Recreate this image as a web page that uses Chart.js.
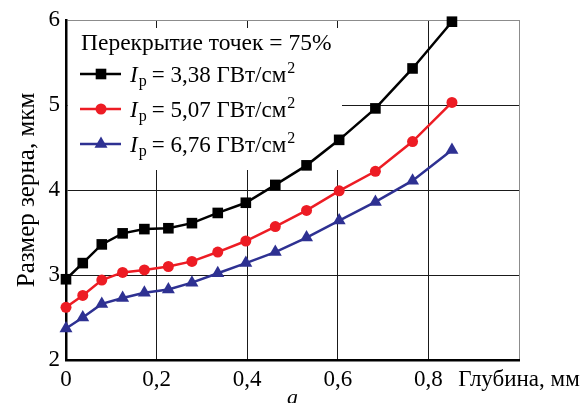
<!DOCTYPE html>
<html>
<head>
<meta charset="utf-8">
<script src="https://cdn.jsdelivr.net/npm/chart.js@4/dist/chart.umd.min.js"></script>
<style>
  html, body { margin: 0; padding: 0; background: #fff; }
  canvas { display: block; }
</style>
</head>
<body>
<canvas id="myChart" width="583" height="403"></canvas>
<script>
// Глубина, мм
const depth = [0, 0.037, 0.079, 0.125, 0.173, 0.226, 0.278, 0.335, 0.397, 0.462, 0.531, 0.603, 0.683, 0.765, 0.852];
// Размер зерна, мкм
const grain338 = [2.95, 3.14, 3.36, 3.49, 3.54, 3.55, 3.61, 3.73, 3.85, 4.06, 4.29, 4.59, 4.96, 5.43, 5.98];
const grain507 = [2.62, 2.76, 2.94, 3.03, 3.06, 3.10, 3.16, 3.27, 3.40, 3.57, 3.76, 3.99, 4.22, 4.57, 5.03];
const grain676 = [2.37, 2.50, 2.66, 2.73, 2.79, 2.83, 2.91, 3.02, 3.14, 3.27, 3.44, 3.64, 3.86, 4.11, 4.47];

const xTickLabels = ['0', '0,2', '0,4', '0,6', '0,8', 'Глубина, мм'];
const yTickLabels = ['2', '3', '4', '5', '6'];
const legendTitle = 'Перекрытие точек = 75%';
const intensities = ['3,38', '5,07', '6,76'];

const FONT = '"Liberation Serif", "Times New Roman", serif';

const toPoints = (ys) => depth.map((x, i) => ({ x: x, y: ys[i] }));

const series = [
    { data: grain338, color: '#000000', style: 'rect', radius: 7.5 },
    { data: grain507, color: '#ed1c24', style: 'circle', radius: 5.5 },
    { data: grain676, color: '#2e3192', style: 'triangle', radius: 7.5 }
];

// маркер, как в легенде
const drawMarker = (ctx, style, r, x, y) => {
    ctx.beginPath();
    if (style === 'rect') {
        const s = r * Math.SQRT1_2;
        ctx.rect(x - s, y - s, 2 * s, 2 * s);
    } else if (style === 'circle') {
        ctx.arc(x, y, r, 0, Math.PI * 2);
    } else {
        ctx.moveTo(x, y - r);
        ctx.lineTo(x + r * Math.cos(Math.PI / 6), y + r * 0.5);
        ctx.lineTo(x - r * Math.cos(Math.PI / 6), y + r * 0.5);
        ctx.closePath();
    }
    ctx.fill();
};

// Легенда с индексами
const legendBox = {
    id: 'legendBox',
    beforeDatasetsDraw(chart) {
        const { ctx, chartArea } = chart;
        const x0 = chartArea.left + 2;
        const y0 = chartArea.top + 8;
        ctx.save();
        ctx.fillStyle = '#fff';
        ctx.fillRect(x0, y0, 274, 142);

        ctx.fillStyle = '#000';
        ctx.textBaseline = 'alphabetic';
        ctx.textAlign = 'left';
        ctx.font = '23.5px ' + FONT;
        ctx.fillText(legendTitle, x0 + 13, y0 + 22);

        series.forEach((s, i) => {
            const cy = y0 + 46 + i * 35;
            ctx.strokeStyle = s.color;
            ctx.fillStyle = s.color;
            ctx.lineWidth = 2.5;
            ctx.beginPath();
            ctx.moveTo(x0 + 12, cy);
            ctx.lineTo(x0 + 53, cy);
            ctx.stroke();
            drawMarker(ctx, s.style, s.radius, x0 + 33, cy);

            ctx.fillStyle = '#000';
            let tx = x0 + 62;
            const base = cy + 8;
            ctx.font = 'italic 23px ' + FONT;
            ctx.fillText('I', tx, base);
            tx += ctx.measureText('I').width + 1;
            ctx.font = '16px ' + FONT;
            ctx.fillText('p', tx, base + 4);
            tx += ctx.measureText('p').width + 5;
            ctx.font = '23px ' + FONT;
            const main = '= ' + intensities[i] + ' ГВт/см';
            ctx.fillText(main, tx, base);
            tx += ctx.measureText(main).width + 1;
            ctx.font = '16px ' + FONT;
            ctx.fillText('2', tx, base - 9);
        });
        ctx.restore();
    }
};

const ctx = document.getElementById('myChart').getContext('2d');
const myChart = new Chart(ctx, {
    type: 'line',
    data: {
        datasets: series.map((s, i) => ({
            label: intensities[i],
            data: toPoints(s.data),
            borderColor: s.color,
            backgroundColor: s.color,
            borderWidth: 2.5,
            pointStyle: s.style,
            pointRadius: s.radius,
            pointHoverRadius: s.radius,
            pointBorderWidth: 0,
            tension: 0,
            clip: false
        }))
    },
    options: {
        responsive: false,
        animation: false,
        events: [],
        layout: { padding: { left: 0, right: 64, top: 20, bottom: 0 } },
        plugins: {
            legend: { display: false },
            tooltip: { enabled: false }
        },
        scales: {
            x: {
                type: 'linear',
                min: 0,
                max: 1,
                ticks: {
                    stepSize: 0.2,
                    color: '#000',
                    padding: 6,
                    maxRotation: 0,
                    autoSkip: false,
                    font: { family: FONT, size: 23 },
                    callback: (v, i) => xTickLabels[i]
                },
                grid: {
                    drawTicks: false,
                    lineWidth: 1,
                    color: (c) => (c.tick && c.tick.value >= 0.99 ? '#8c8c8c' : '#1a1a1a')
                },
                border: { color: '#000', width: 2.5 },
                title: {
                    display: true,
                    text: 'a',
                    color: '#000',
                    font: { family: FONT, size: 22, style: 'italic', lineHeight: '9px' },
                    padding: { top: 0, bottom: 0 }
                },
                afterFit: (scale) => {
                    scale.height = 43;
                    scale.paddingLeft = 0;
                    scale.paddingRight = 0;
                }
            },
            y: {
                min: 2,
                max: 6,
                ticks: {
                    stepSize: 1,
                    color: '#000',
                    padding: 6,
                    font: { family: FONT, size: 23 },
                    callback: (v, i) => yTickLabels[i]
                },
                grid: {
                    drawTicks: false,
                    lineWidth: 1,
                    color: (c) => (c.tick && c.tick.value >= 6 ? '#8c8c8c' : '#1a1a1a')
                },
                border: { color: '#000', width: 2.5 },
                title: {
                    display: true,
                    text: 'Размер зерна, мкм',
                    color: '#000',
                    font: { family: FONT, size: 25 },
                    padding: { top: 12, bottom: 0 }
                },
                afterFit: (scale) => {
                    scale.width = 66;
                    scale.paddingTop = 0;
                    scale.paddingBottom = 0;
                }
            }
        }
    },
    plugins: [legendBox]
});
</script>
</body>
</html>
